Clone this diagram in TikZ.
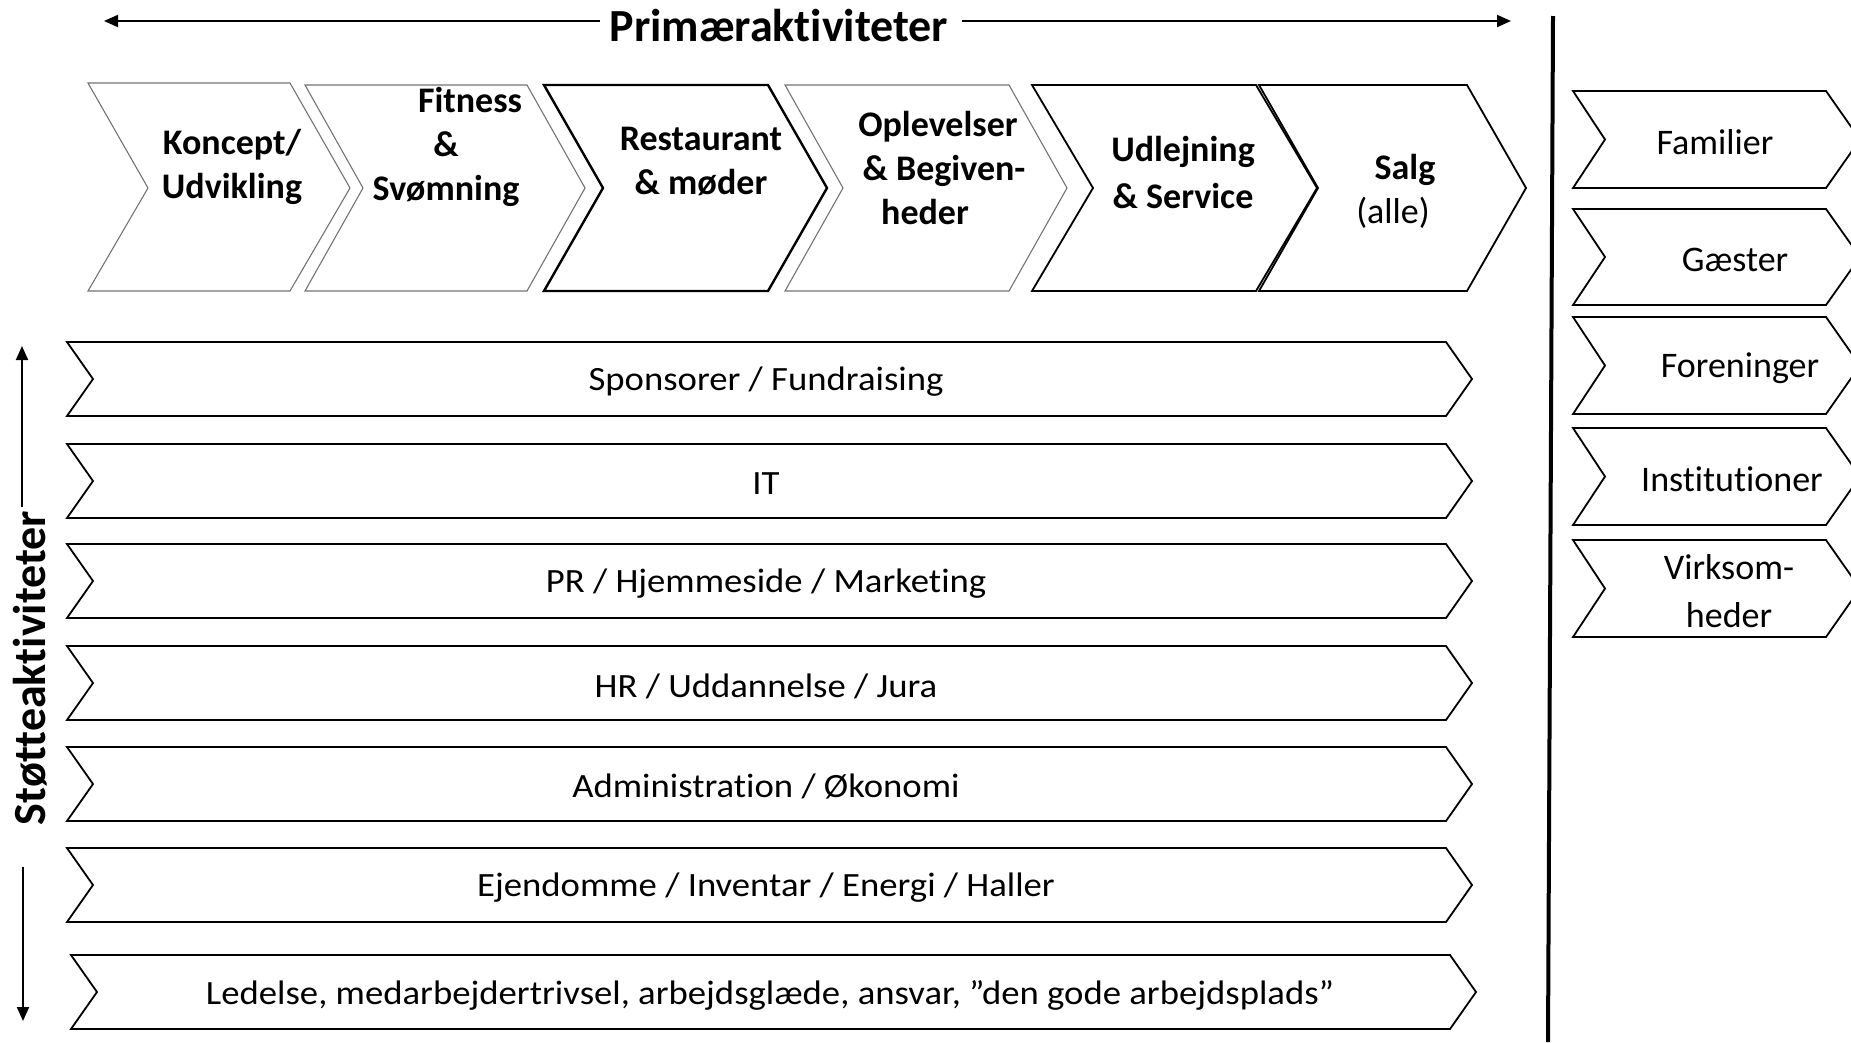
\documentclass[tikz,border=0pt]{standalone}
\usepackage{fontspec}
\setmainfont[Ligatures=NoCommon]{Carlito}
\newfontfamily\barfont[FakeStretch=1.08,Ligatures=NoCommon]{Carlito}
\usetikzlibrary{arrows.meta}

\tikzset{
  primtext/.style={font=\fontsize{36}{44}\selectfont\bfseries, align=center},
  headtext/.style={font=\fontsize{46}{52}\selectfont\bfseries},
  bartext/.style={font=\barfont\fontsize{34}{40}\selectfont},
  segtext/.style={font=\fontsize{36}{48}\selectfont, align=center},
  thinchev/.style={draw=black!55, line width=1.1pt},
  boldchev/.style={draw=black, line width=2.4pt},
  midchev/.style={draw=black, line width=1.8pt},
  barchev/.style={draw=black, line width=1.8pt},
  longarrow/.style={line width=2pt, -{Triangle[length=14pt,width=12pt]}},
}

\begin{document}
\begin{tikzpicture}[x=1pt,y=-1pt]
    \useasboundingbox (0,0) rectangle (1851,1042);
    \clip (0,0) rectangle (1851,1042);

    % Primary activities header
    \node[headtext] (prim) at (779,26) {Primæraktiviteter};
    \coordinate (primL) at (104,21);
    \coordinate (primR) at (1511,21);
    \draw[longarrow, shorten <=6pt] (prim.west |- primL) -- (primL);
    \draw[longarrow, shorten <=10pt] (prim.east |- primR) -- (primR);

    % Primary chevrons
    \foreach \xa/\xb/\d/\yt/\sty in {88/290/60/83/thinchev, 305/527/58/85/thinchev,
        544/768/59/85/boldchev, 785/1009/58/85/thinchev,
        1032/1256/61/85/midchev, 1259/1467/59/85/midchev}
    {
        \draw[\sty] (\xa,\yt) -- (\xb,\yt) -- ({\xb+\d},188) -- (\xb,291)
            -- (\xa,291) -- ({\xa+\d},188) -- cycle;
    }
    \node[primtext] (koncept) at (232,167) {Koncept/\\Udvikling};
    \node[primtext] (fitness) at (446,147) {\hspace*{48pt}Fitness\\\&\hspace*{12pt}\\Svømning};
    \node[primtext] (restaurant) at (701,161) {Restaurant\\\& møder};
    \node[primtext] (oplevelser) at (936,168) {\hspace*{4pt}Oplevelser\\\hspace*{16pt}\& Begiven-\\heder\hspace*{22pt}};
    \node[primtext] (udlejning) at (1183,172) {Udlejning\\[3pt]\& Service};
    \node[primtext] (salg) at (1399,191) {\hspace*{12pt}Salg\\{\mdseries (alle)}\hspace*{12pt}};

    % Divider
    \draw[line width=4pt] (1553,16) -- (1548,1042);

    % Support activities
    \node[headtext, rotate=90] (stoette) at (30,668) {Støtteaktiviteter};
    \coordinate (stoetteT) at (22,346);
    \coordinate (stoetteB) at (23,1021);
    \draw[longarrow] (stoette.east -| stoetteT) -- (stoetteT);
    \draw[longarrow, shorten <=38pt] (stoette.west -| stoetteB) -- (stoetteB);

    \foreach \yt/\s/\txt [count=\i] in {342/0/{Sponsorer / Fundraising}, 444/0/IT,
        544/0/{PR / Hjemmeside / Marketing}, 646/0/{HR / Uddannelse / Jura},
        747/0/{Administration / Økonomi}, 848/0/{Ejendomme / Inventar / Energi / Haller},
        955/4/{Ledelse, medarbejdertrivsel, arbejdsglæde, ansvar, ”den gode arbejdsplads”}}
    {
        \draw[barchev] ({67+\s},\yt) -- ({1446+\s},\yt) -- ({1472+\s},{\yt+37})
            -- ({1446+\s},{\yt+74}) -- ({67+\s},{\yt+74}) -- ({93+\s},{\yt+37}) -- cycle;
        \node[bartext] (bar\i) at ({766+\s},{\yt+40}) {\txt};
    }

    % Customer segments
    \foreach \yt/\yb/\xc/\txt [count=\i] in {91/188/1715/Familier, 209/305/1735/Gæster,
        317/414/1740/Foreninger, 428/525/1732/Institutioner, 540/637/1729/{Virksom-\\heder}}
    {
        \draw[barchev] (1573,\yt) -- (1826,\yt) -- (1860,{(\yt+\yb)/2}) -- (1826,\yb)
            -- (1573,\yb) -- (1605,{(\yt+\yb)/2}) -- cycle;
        \node[segtext] (seg\i) at (\xc,{(\yt+\yb)/2+3}) {\txt};
    }
\end{tikzpicture}
\end{document}
